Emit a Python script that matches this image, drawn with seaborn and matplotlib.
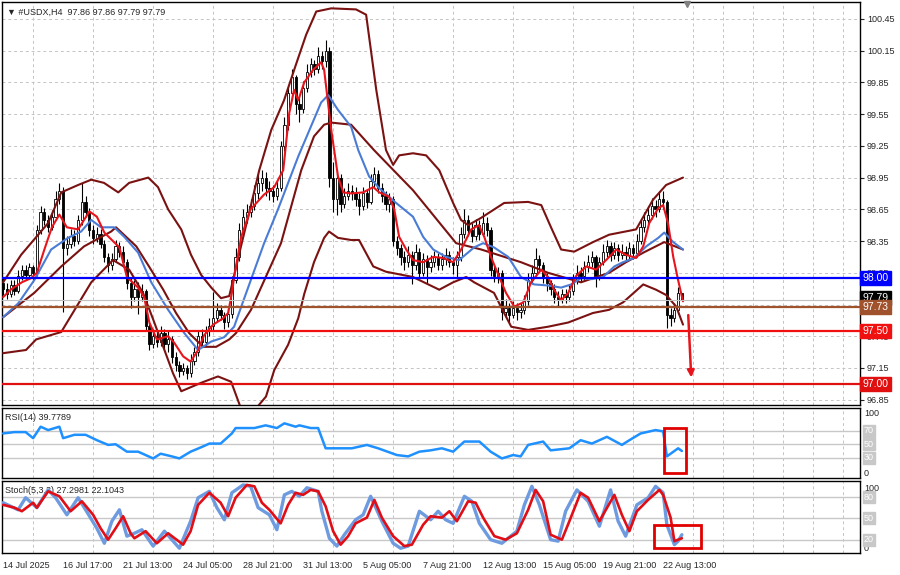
import numpy as np
import matplotlib.pyplot as plt
from matplotlib.patches import Rectangle
import seaborn as sns

# ---- H4 candles, 14 Jul 2025 -> 22 Aug 2025 ----
first_open = 97.95
closes = [
    97.90, 97.85, 97.93, 97.88, 98.02, 98.08, 98.03, 98.10, 98.05, 98.45,
    98.62, 98.55, 98.48, 98.58, 98.75, 98.82, 98.28, 98.32, 98.40, 98.35,
    98.55, 98.72, 98.62, 98.45, 98.38, 98.42, 98.32, 98.20, 98.12, 98.18,
    98.30, 98.25, 98.15, 97.95, 97.82, 97.90, 97.82, 97.88, 97.55, 97.38,
    97.45, 97.40, 97.48, 97.38, 97.42, 97.25, 97.18, 97.12, 97.15, 97.10,
    97.22, 97.30, 97.45, 97.40, 97.50, 97.55, 97.62, 97.70, 97.65, 97.58,
    97.66, 97.98, 98.20, 98.45, 98.58, 98.62, 98.68, 98.80, 98.90, 98.95,
    98.85, 98.82, 98.78, 98.85, 99.25, 99.45, 99.75, 99.90, 99.65, 99.60,
    99.80, 99.95, 100.02, 99.98, 100.10, 100.05, 100.15, 98.95, 98.75, 98.95,
    98.70, 98.78, 98.82, 98.80, 98.75, 98.68, 98.80, 98.72, 98.92, 98.98,
    98.85, 98.78, 98.70, 98.75, 98.35, 98.28, 98.20, 98.15, 98.22, 98.12,
    98.25, 98.05, 98.18, 98.10, 98.15, 98.20, 98.12, 98.18, 98.22, 98.15,
    98.12, 98.20, 98.42, 98.55, 98.45, 98.40, 98.50, 98.42, 98.52, 98.45,
    98.08, 98.02, 98.05, 97.68, 97.72, 97.65, 97.72, 97.68, 97.70, 97.78,
    97.98, 98.05, 98.18, 98.12, 98.00, 97.95, 97.90, 97.82, 97.80, 97.85,
    97.82, 97.88, 97.98, 98.05, 98.02, 98.10, 98.15, 98.20, 98.02, 98.15,
    98.25, 98.30, 98.22, 98.28, 98.22, 98.25, 98.22, 98.28, 98.24, 98.35,
    98.48, 98.55, 98.60, 98.68, 98.65, 98.75, 98.72, 97.65, 97.62, 97.70,
    97.86, 97.79,
]
highs = [
    98.00, 97.95, 97.98, 97.98, 98.08, 98.12, 98.12, 98.14, 98.12, 98.50,
    98.68, 98.66, 98.60, 98.64, 98.82, 98.90, 98.86, 98.40, 98.46, 98.45,
    98.60, 98.90, 98.78, 98.66, 98.50, 98.48, 98.46, 98.36, 98.24, 98.24,
    98.36, 98.34, 98.30, 98.18, 98.00, 97.98, 97.96, 97.94, 97.90, 97.58,
    97.52, 97.50, 97.55, 97.52, 97.50, 97.45, 97.30, 97.22, 97.20, 97.18,
    97.28, 97.35, 97.50, 97.52, 97.55, 97.62, 97.87, 97.76, 97.75, 97.68,
    97.72, 98.02, 98.28, 98.52, 98.65, 98.70, 98.75, 98.88, 98.98, 99.02,
    99.00, 98.92, 98.88, 98.92, 99.30, 99.52, 99.82, 99.98, 99.92, 99.72,
    99.86, 100.02, 100.08, 100.06, 100.18, 100.15, 100.25, 100.18, 99.10, 99.02,
    98.98, 98.85, 98.90, 98.88, 98.86, 98.80, 98.86, 98.84, 98.98, 99.05,
    99.02, 98.90, 98.82, 98.80, 98.78, 98.40, 98.32, 98.26, 98.30, 98.26,
    98.32, 98.28, 98.24, 98.22, 98.22, 98.26, 98.24, 98.24, 98.28, 98.26,
    98.20, 98.26, 98.48, 98.65, 98.60, 98.52, 98.56, 98.55, 98.62, 98.58,
    98.48, 98.12, 98.10, 98.08, 97.80, 97.76, 97.78, 97.76, 97.76, 97.84,
    98.05, 98.12, 98.28, 98.22, 98.15, 98.05, 97.98, 97.94, 97.88, 97.90,
    97.90, 97.94, 98.04, 98.12, 98.10, 98.16, 98.22, 98.26, 98.22, 98.20,
    98.32, 98.36, 98.34, 98.34, 98.32, 98.32, 98.30, 98.34, 98.32, 98.42,
    98.55, 98.62, 98.68, 98.76, 98.74, 98.82, 98.82, 98.74, 97.72, 97.76,
    97.92, 97.86,
]
lows = [
    97.84, 97.80, 97.82, 97.84, 97.86, 97.98, 97.98, 98.00, 97.96, 98.02,
    98.42, 98.50, 98.44, 98.45, 98.55, 98.70, 97.68, 98.22, 98.28, 98.30,
    98.32, 98.50, 98.58, 98.40, 98.32, 98.34, 98.28, 98.15, 98.06, 98.08,
    98.15, 98.20, 98.10, 97.90, 97.72, 97.78, 97.66, 97.78, 97.50, 97.32,
    97.34, 97.35, 97.36, 97.33, 97.30, 97.20, 97.12, 97.06, 97.08, 97.05,
    97.06, 97.18, 97.26, 97.35, 97.36, 97.45, 97.50, 97.58, 97.60, 97.52,
    97.54, 97.62, 97.95, 98.16, 98.40, 98.52, 98.58, 98.64, 98.75, 98.82,
    98.78, 98.74, 98.72, 98.74, 98.82, 99.20, 99.40, 99.70, 99.55, 99.48,
    99.56, 99.76, 99.90, 99.92, 99.94, 99.98, 100.00, 98.86, 98.62, 98.60,
    98.62, 98.66, 98.74, 98.74, 98.68, 98.60, 98.64, 98.66, 98.70, 98.86,
    98.80, 98.72, 98.64, 98.62, 98.30, 98.22, 98.12, 98.08, 98.10, 97.94,
    98.08, 98.00, 98.02, 97.94, 98.06, 98.10, 98.08, 98.08, 98.12, 98.10,
    98.04, 98.00, 98.16, 98.38, 98.40, 98.34, 98.36, 98.36, 98.40, 98.40,
    98.02, 97.96, 97.95, 97.60, 97.62, 97.58, 97.62, 97.60, 97.62, 97.66,
    97.75, 97.94, 98.02, 98.06, 97.95, 97.88, 97.84, 97.76, 97.74, 97.76,
    97.76, 97.78, 97.84, 97.94, 97.96, 97.98, 98.06, 98.10, 97.92, 97.98,
    98.12, 98.20, 98.16, 98.18, 98.16, 98.18, 98.16, 98.18, 98.18, 98.20,
    98.32, 98.44, 98.50, 98.56, 98.58, 98.62, 98.65, 97.53, 97.55, 97.58,
    97.66, 97.79,
]

time_labels = ["14 Jul 2025", "16 Jul 17:00", "21 Jul 13:00", "24 Jul 05:00",
               "28 Jul 21:00", "31 Jul 13:00", "5 Aug 05:00", "7 Aug 21:00",
               "12 Aug 13:00", "15 Aug 05:00", "19 Aug 21:00", "22 Aug 13:00"]
price_ticks = [96.85, 97.15, 97.45, 97.75, 98.05, 98.35, 98.65, 98.95,
               99.25, 99.55, 99.85, 100.15, 100.45]

# fast MA (red)
ma_fast_bar = [0, 2, 5, 7.5, 9, 11, 13, 15, 17, 20, 23, 25, 27, 29, 31, 33, 36, 37.6,
               39, 41, 44, 45.6, 48, 50, 52, 53.6, 56, 58.7, 60, 61, 61.6, 63.5, 66,
               69.6, 72.3, 74.7, 76.3, 77.6, 78.7, 80.3, 82.7, 84.8, 85.6, 87.5, 89.3,
               90.7, 92.8, 96, 98.7, 100.3, 102.9, 104.3, 105.6, 107.5, 109.3, 112,
               114.7, 117.3, 120, 122, 124.8, 126.9, 128.3, 130.1, 132.3, 134.1, 136.3,
               138.7, 140.8, 143.5, 145.3, 146.9, 148.8, 150.7, 152.8, 155.5, 158.1,
               160.8, 163.5, 166.1, 168.8, 170.7, 172.3, 174.7, 176, 177.3, 178.7,
               180, 181.3]
ma_fast = [97.82, 97.89, 97.96, 98.00, 98.05, 98.27, 98.48, 98.60, 98.48, 98.46,
           98.63, 98.58, 98.43, 98.36, 98.29, 98.01, 97.91, 97.82, 97.58, 97.42,
           97.45, 97.39, 97.26, 97.21, 97.32, 97.46, 97.56, 97.62, 97.67, 97.86,
           98.01, 98.39, 98.65, 98.79, 98.86, 99.02, 99.56, 99.78, 99.68, 99.85,
           99.97, 100.04, 99.97, 99.40, 98.96, 98.81, 98.80, 98.81, 98.86, 98.81,
           98.77, 98.65, 98.39, 98.27, 98.17, 98.15, 98.20, 98.19, 98.15, 98.26,
           98.46, 98.50, 98.39, 98.20, 98.01, 97.86, 97.73, 97.77, 97.96, 98.08,
           98.01, 97.89, 97.79, 97.86, 98.02, 98.11, 98.08, 98.17, 98.27, 98.22,
           98.19, 98.30, 98.52, 98.66, 98.69, 98.52, 98.20, 97.98, 97.78]

# slow MA (blue)
ma_slow_bar = [0, 4, 8.3, 12.8, 17.3, 20.8, 23.5, 26.1, 29.6, 32.3, 36, 39.5, 44, 48.3,
               52, 55.5, 58.9, 61.6, 63.5, 69.6, 73.3, 78.7, 84.8, 86.7, 89.3, 92.8,
               94.7, 97.6, 100.3, 104.8, 109.3, 112, 114.7, 118.1, 121.6, 125.6, 128,
               130.9, 134.7, 138.1, 141.6, 145.3, 148.8, 151.5, 154.1, 157, 160, 163,
               165.3, 168.3, 171.5, 174.7, 176.3, 178.7, 181.3]
ma_slow = [97.63, 97.76, 97.98, 98.27, 98.38, 98.44, 98.55, 98.48, 98.48, 98.39,
           98.24, 97.96, 97.70, 97.48, 97.32, 97.40, 97.44, 97.54, 97.73, 98.33,
           98.65, 99.15, 99.66, 99.73, 99.59, 99.43, 99.21, 98.96, 98.85, 98.71,
           98.58, 98.39, 98.27, 98.20, 98.17, 98.29, 98.33, 98.29, 98.20, 98.01,
           97.94, 97.93, 97.91, 97.94, 98.00, 97.99, 98.01, 98.11, 98.15, 98.19,
           98.30, 98.38, 98.43, 98.34, 98.27]

# Bollinger bands (maroon)
bb_up_bar = [0, 4.8, 12, 15.5, 20, 23.5, 26.9, 30.7, 33.6, 38.7, 41.3, 44, 47.5, 50.1,
             52.8, 55.5, 58.1, 60.3, 63.5, 66.1, 68.3, 71.5, 74.9, 78.1, 80.8, 83.5,
             87.5, 94.1, 96.8, 99.5, 102.1, 104, 105.6, 109.3, 112.8, 116.3, 120,
             122.1, 124, 127.5, 133.6, 140, 143.5, 146.1, 148.8, 152.3, 157.3, 161.6,
             168.8, 173.3, 176.8, 181.3]
bb_up = [97.96, 98.22, 98.52, 98.81, 98.88, 98.93, 98.90, 98.81, 98.90, 98.95,
         98.86, 98.65, 98.46, 98.22, 98.03, 97.91, 97.81, 97.83, 98.31, 98.69,
         99.02, 99.40, 99.68, 100.02, 100.30, 100.52, 100.55, 100.54, 100.49, 99.78,
         99.21, 99.07, 99.16, 99.18, 99.16, 99.02, 98.71, 98.55, 98.50, 98.57,
         98.71, 98.72, 98.69, 98.48, 98.27, 98.25, 98.34, 98.41, 98.46, 98.74,
         98.88, 98.95]
bb_mid_bar = [0, 8.3, 15.5, 21.6, 28.8, 30.1, 35.5, 38.9, 42.7, 46.1, 49.6, 53.3, 56.8,
              60.3, 62.1, 66.1, 74.1, 79.5, 82.9, 85.6, 87.5, 92.8, 98.9, 109.3, 120.8,
              127.5, 138.1, 145.3, 154.1, 161.6, 166.1, 170.7, 176.3, 181.3]
bb_mid = [97.63, 97.86, 98.11, 98.30, 98.44, 98.48, 98.30, 98.11, 97.89, 97.67,
          97.48, 97.35, 97.35, 97.42, 97.48, 97.70, 98.33, 99.02, 99.34, 99.45,
          99.47, 99.45, 99.21, 98.83, 98.33, 98.27, 98.15, 98.05, 97.96, 98.05,
          98.15, 98.24, 98.34, 98.27]
bb_low_bar = [0, 6.1, 8.8, 15.5, 23.5, 29.3, 33.6, 37.3, 40, 42.7, 45.3, 47.5, 52.8,
              57.3, 60.8, 63.5, 67.5, 70.1, 72.3, 76, 78.7, 80.3, 82.9, 85.6, 86.9,
              89.3, 92.8, 94.9, 98.7, 102.1, 109.3, 116.3, 120, 123.5, 125.6, 130.9,
              133.6, 135.5, 140, 145.3, 150.7, 157.3, 161.6, 165.3, 170.7, 174.1,
              176.8, 179.5, 181.3]
bb_low = [97.29, 97.32, 97.42, 97.49, 97.96, 98.17, 98.08, 97.86, 97.61, 97.35,
          97.10, 96.93, 97.01, 97.07, 97.02, 96.76, 96.77, 96.88, 97.13, 97.37,
          97.62, 97.85, 98.15, 98.38, 98.44, 98.38, 98.36, 98.36, 98.11, 98.06,
          98.01, 97.89, 97.96, 98.01, 97.96, 97.86, 97.67, 97.54, 97.51, 97.54,
          97.58, 97.67, 97.70, 97.77, 97.94, 97.89, 97.84, 97.73, 97.56]

# horizontal levels
level_values = [98.00, 97.73, 97.50, 97.00]
level_colors = ["#0000FF", "#A0522D", "#F01010", "#E01010"]
last_price = 97.79

# RSI(14)
rsi_bar = [0, 3, 6, 8, 10, 12, 15, 16, 19, 22, 25, 28, 30, 33, 36, 40, 42, 45, 47, 50,
           53, 55, 58, 61, 62, 67, 70, 73, 75, 78, 79, 82, 84, 86, 88, 93, 97, 100,
           105, 108, 111, 114, 117, 120, 123, 127, 130, 133, 136, 138, 140, 144, 146,
           151, 154, 157, 161, 165, 167, 170, 174, 176, 177, 180, 181]
rsi_val = [66, 68, 68, 59, 76, 71, 76, 59, 64, 64, 56, 49, 50, 39, 39, 29, 36, 32, 29,
           39, 46, 51, 51, 66, 74, 74, 78, 74, 81, 76, 78, 74, 74, 44, 44, 44, 49, 44,
           34, 32, 39, 41, 44, 39, 54, 54, 39, 29, 34, 32, 49, 54, 41, 44, 56, 51, 61,
           49, 56, 66, 71, 69, 32, 44, 40]

# Stochastic(5,3,3): main (%K) and signal (%D)
stoch_k_bar = [0, 2, 4, 6, 9, 12, 14, 17, 20, 22, 25, 27, 29, 31, 33, 35, 37, 40, 43,
               45, 47, 50, 52, 55, 57, 59, 61, 64, 66, 68, 71, 73, 75, 77, 79, 81, 84,
               85, 87, 89, 91, 94, 96, 98, 101, 104, 106, 108, 111, 114, 116, 118, 120,
               123, 125, 127, 130, 133, 137, 139, 141, 143, 146, 148, 150, 153, 156,
               159, 162, 164, 166, 169, 172, 174, 176, 177, 179, 180, 181]
stoch_k = [72, 67, 62, 79, 65, 90, 79, 55, 79, 62, 36, 15, 46, 62, 25, 29, 34, 11, 32,
           20, 8, 46, 79, 88, 65, 48, 86, 97, 95, 65, 55, 34, 83, 88, 81, 93, 88, 60,
           22, 11, 27, 48, 55, 81, 46, 15, 8, 11, 60, 48, 60, 48, 43, 81, 74, 43, 20,
           15, 32, 69, 95, 69, 20, 18, 60, 90, 74, 39, 90, 46, 25, 69, 79, 95, 86, 41,
           13, 18, 27]
stoch_d_bar = [0, 3, 5, 8, 9, 12, 15, 18, 21, 24, 26, 28, 30, 32, 34, 35, 38, 41, 44,
               45, 48, 50, 52, 55, 58, 60, 62, 65, 67, 69, 71, 74, 76, 78, 80, 82, 84,
               86, 88, 90, 92, 94, 97, 99, 101, 104, 107, 109, 112, 114, 117, 119, 121,
               124, 126, 128, 131, 134, 137, 140, 142, 144, 146, 149, 151, 154, 156,
               159, 163, 165, 167, 169, 172, 175, 176, 178, 179, 181]
stoch_d = [69, 65, 60, 72, 65, 88, 81, 60, 74, 55, 36, 20, 36, 53, 29, 22, 32, 15, 29,
           25, 13, 32, 69, 86, 72, 53, 79, 97, 95, 72, 62, 43, 69, 86, 83, 90, 88, 67,
           32, 13, 25, 43, 51, 76, 51, 25, 11, 13, 41, 53, 51, 60, 46, 74, 72, 51, 25,
           20, 29, 62, 90, 74, 27, 20, 46, 86, 79, 46, 83, 55, 32, 60, 76, 90, 83, 51,
           18, 22]

# annotations
arrow_from = (182.7, 97.65)
arrow_to = (183.5, 97.06)
rsi_box = (176.3, 7.9, 5.8, 66.6)
stoch_box = (173.5, 8.3, 12.7, 32.7)

# ---------------------------------------------------------------
sns.set_style("white")
plt.rcParams["font.family"] = ["Liberation Sans", "DejaVu Sans"]
plt.rcParams["font.size"] = 6.5

fig = plt.figure(figsize=(9, 5.75), dpi=100)


def px_axes(x0, y0, x1, y1):
    return fig.add_axes([x0 / 900, 1 - y1 / 575, (x1 - x0) / 900, (y1 - y0) / 575])


ax = px_axes(2, 2, 860, 405)
ax_rsi = px_axes(2, 408, 860, 478)
ax_st = px_axes(2, 481, 860, 553)

label_ticks = np.arange(len(time_labels)) * 16
grid_ticks = np.arange(0, 229, 8)
grid_kw = dict(color="#C4C4C4", linestyle=(0, (3, 3)), linewidth=0.7)
for a in (ax, ax_rsi, ax_st):
    a.set_xlim(-0.3, 228.5)
    a.set_xticks(label_ticks)
    a.set_xticks(grid_ticks, minor=True)
    a.grid(axis="x", which="minor", **grid_kw)
    a.yaxis.tick_right()
    a.tick_params(axis="x", which="both", length=0, labelbottom=False)
    for s in a.spines.values():
        s.set_color("black")
        s.set_linewidth(1)

# ---- main price panel ----
closes = np.array(closes)
opens = np.r_[first_open, closes[:-1]]
bars = np.arange(len(closes))
up = closes >= opens
ax.vlines(bars, lows, highs, color="black", linewidth=0.8, zorder=3)
ax.bar(bars[up], closes[up] - opens[up], bottom=opens[up], width=0.6,
       color="white", edgecolor="black", linewidth=0.6, zorder=4)
ax.bar(bars[~up], opens[~up] - closes[~up], bottom=closes[~up], width=0.6,
       color="black", edgecolor="black", linewidth=0.6, zorder=4)

maroon = "#7A1212"
for xb, yv in ((bb_up_bar, bb_up), (bb_mid_bar, bb_mid), (bb_low_bar, bb_low)):
    sns.lineplot(x=xb, y=yv, ax=ax, color=maroon, linewidth=1.5,
                 estimator=None, sort=False, zorder=5)
sns.lineplot(x=ma_slow_bar, y=ma_slow, ax=ax, color="#4A7CD6", linewidth=1.5,
             estimator=None, sort=False, zorder=6)
sns.lineplot(x=ma_fast_bar, y=ma_fast, ax=ax, color="#E8141C", linewidth=1.5,
             estimator=None, sort=False, zorder=6)

ax.axhline(last_price, color="#C0C0C0", linewidth=0.8, zorder=6)
for v, c in zip(level_values, level_colors):
    ax.axhline(v, color=c, linewidth=1.6, zorder=7)

ax.set_ylim(96.80, 100.61)
ax.set_yticks(price_ticks)
ax.set_yticklabels([f"{t:.2f}" for t in price_ticks])
ax.tick_params(axis="y", direction="out", length=3, pad=2, labelsize=6.5)
ax.grid(axis="y", **grid_kw)
ax.set_xlabel("")
ax.set_ylabel("")

# coloured price boxes on the right scale (they sit over the tick labels, as in MT4)
ytr = ax.get_yaxis_transform()
box_x = 1.0 + 2.5 / 858
ax.text(box_x, last_price + 0.025, f"{last_price:.2f}", transform=ytr, ha="left",
        va="center", color="white", fontsize=7.5, zorder=20, clip_on=False,
        bbox=dict(boxstyle="square,pad=0.2", fc="black", ec="black"))
for v, c in zip(level_values, level_colors):
    ax.text(box_x, v, f"{v:.2f}", transform=ytr, ha="left", va="center",
            color="white", fontsize=7.5, zorder=21, clip_on=False,
            bbox=dict(boxstyle="square,pad=0.2", fc=c, ec=c))

ax.annotate("", xy=arrow_to, xytext=arrow_from, zorder=9,
            arrowprops=dict(arrowstyle="-|>", color="#E8141C", lw=1.8,
                            mutation_scale=10, shrinkA=0, shrinkB=0))
ax.plot([182.5], [0.995], marker="v", color="#808080", markersize=4.5,
        transform=ax.get_xaxis_transform(), clip_on=False, zorder=10)
ax.text(0.006, 0.985, "\u25bc #USDX,H4  97.86 97.86 97.79 97.79",
        transform=ax.transAxes, ha="left", va="top", fontsize=6.5, zorder=12)

# ---- RSI panel ----
ax_rsi.set_ylim(0, 103.7)
for lv in (30, 50, 70):
    ax_rsi.axhline(lv, color="#C8C8C8", linewidth=1, zorder=2)
sns.lineplot(x=rsi_bar, y=rsi_val, ax=ax_rsi, color="#1E90FF", linewidth=1.8,
             estimator=None, sort=False, zorder=5)
ax_rsi.add_patch(Rectangle(rsi_box[:2], rsi_box[2], rsi_box[3], fill=False,
                           edgecolor="#E00000", linewidth=2, zorder=8))
ax_rsi.set_yticks([])
ax_rsi.set_xlabel("")
ax_rsi.set_ylabel("")
ax_rsi.text(0.004, 0.93, "RSI(14) 39.7789", transform=ax_rsi.transAxes,
            ha="left", va="top", fontsize=6.5)

# ---- Stochastic panel ----
ax_st.set_ylim(1.3, 102.5)
for lv in (20, 50, 80):
    ax_st.axhline(lv, color="#C8C8C8", linewidth=1, zorder=2)
sns.lineplot(x=stoch_k_bar, y=stoch_k, ax=ax_st, color="#6E9BE0", linewidth=2.4,
             estimator=None, sort=False, zorder=5)
sns.lineplot(x=stoch_d_bar, y=stoch_d, ax=ax_st, color="#E00E16", linewidth=1.9,
             estimator=None, sort=False, zorder=6)
ax_st.add_patch(Rectangle(stoch_box[:2], stoch_box[2], stoch_box[3], fill=False,
                          edgecolor="#E00000", linewidth=2, zorder=8))
ax_st.set_yticks([])
ax_st.set_xlabel("")
ax_st.set_ylabel("")
ax_st.text(0.004, 0.93, "Stoch(5,3,3) 27.2981 22.1043", transform=ax_st.transAxes,
           ha="left", va="top", fontsize=6.5)
ax_st.set_xticklabels(time_labels, ha="left")
ax_st.tick_params(axis="x", which="major", length=3, direction="out", pad=3,
                  labelbottom=True, labelsize=6.5)

# right-hand level labels of the two indicator panels
for a, top, bottom, lvls in ((ax_rsi, 95, 7, (70, 50, 30)),
                             (ax_st, 92, 8, (80, 50, 20))):
    tr = a.get_yaxis_transform()
    a.text(1.0 + 4 / 858, top, "100", transform=tr, ha="left", va="center",
           fontsize=6.5, clip_on=False)
    a.text(1.0 + 4 / 858, bottom, "0", transform=tr, ha="left", va="center",
           fontsize=6.5, clip_on=False)
    for lv in lvls:
        a.text(1.0 + 4 / 858, lv, str(lv), transform=tr, ha="left", va="center",
               fontsize=6.5, color="white", clip_on=False,
               bbox=dict(boxstyle="square,pad=0.15", fc="#C8C8C8", ec="#C8C8C8"))

fig.savefig("out.png", dpi=100, facecolor="white")
